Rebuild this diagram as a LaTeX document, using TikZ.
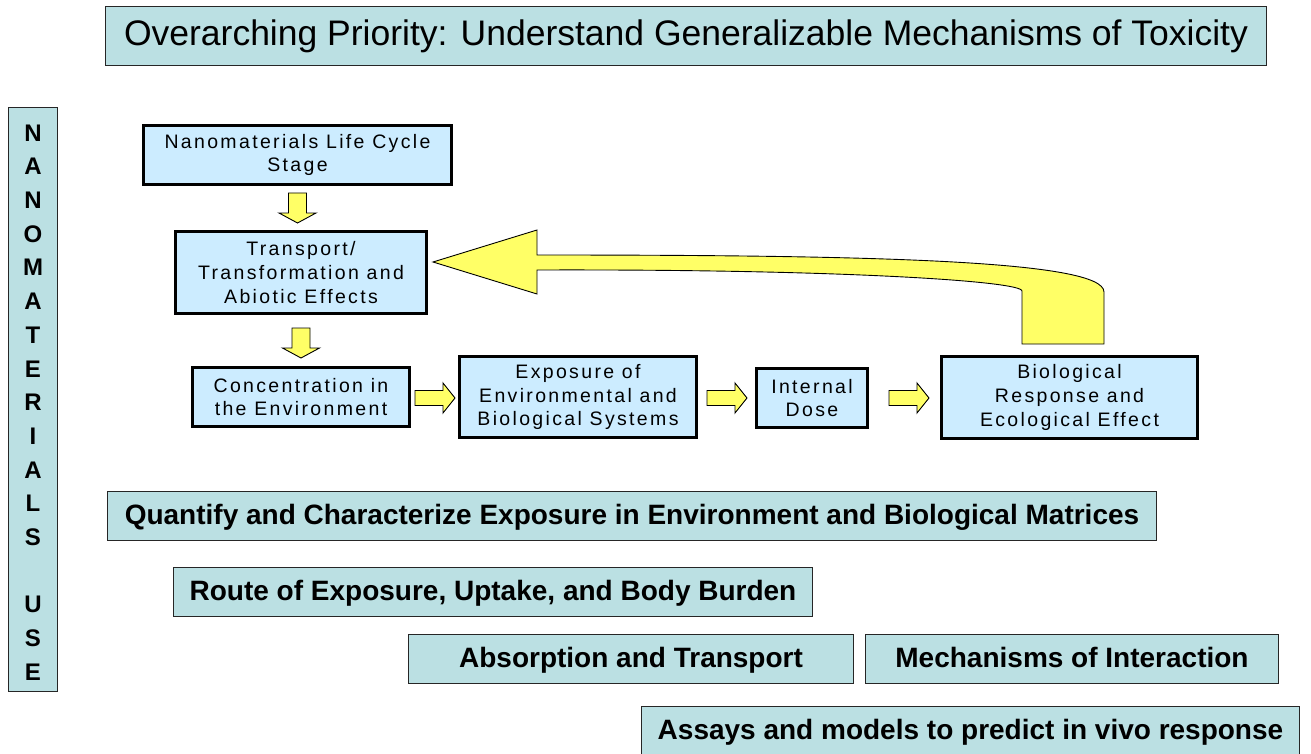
\documentclass[tikz,border=0pt]{standalone}
\usepackage{fontspec}
\setmainfont{Liberation Sans}
\newfontfamily\trackedfont[LetterSpace=12]{Liberation Sans}
\usetikzlibrary{calc}
\definecolor{tealfill}{HTML}{BBE0E3}
\definecolor{flowfill}{HTML}{CCECFF}
\definecolor{arrowfill}{HTML}{FFFF66}

% block arrows drawn from a start point
\newcommand\downblock[1]{\draw[blockarrow] #1 ++(-9,0) -- ++(18,0) -- ++(0,20) -- ++(9.5,0) -- ++(-18.5,10) -- ++(-18.5,-10) -- ++(9.5,0) -- cycle;}
\newcommand\rightblock[1]{\draw[blockarrow] #1 ++(0,-7.5) -- ++(28,0) -- ++(0,-7.5) -- ++(12,15) -- ++(-12,15) -- ++(0,-7.5) -- ++(-28,0) -- cycle;}

\begin{document}
\begin{tikzpicture}[x=1pt,y=-1pt,
  panel/.style={draw=black!85, line width=1.2pt, fill=tealfill, inner sep=0pt, minimum height=49pt,
    text height=21pt, text depth=5pt, font=\fontsize{28}{32}\selectfont\bfseries},
  flowbox/.style={draw=black, line width=3pt, fill=flowfill, inner sep=0pt, align=center,
    font=\fontsize{19.5}{23.7}\selectfont\trackedfont},
  blockarrow/.style={draw=black, line width=0.9pt, fill=arrowfill, line join=miter},
  ]
\useasboundingbox[fill=white] (0,0) rectangle (1311,754);

% headline and side banner
\node[panel, minimum width=1161pt, minimum height=59pt, text height=26pt, text depth=7pt,
  font=\fontsize{35.5}{40}\selectfont] (title) at (686,36)
  {Overarching Priority: Understand Generalizable Mechanisms of Toxicity};
\node[panel, minimum width=49pt, minimum height=584pt] (side) at (33,399.5) {};
\node[font=\fontsize{24}{33.7}\selectfont\bfseries, align=center, inner sep=0pt] (sidetext) at (33,402.5)
  {N\\A\\N\\O\\M\\A\\T\\E\\R\\I\\A\\L\\S\\\mbox{}\\U\\S\\E};

% flow of stages
\node[flowbox, minimum width=308pt, minimum height=59pt] (b1) at (297.5,155) {Nanomaterials Life Cycle\\Stage};
\node[flowbox, minimum width=251pt, minimum height=82pt] (b2) at (301,272.5) {Transport/\\Transformation and\\Abiotic Effects};
\node[flowbox, minimum width=217pt, minimum height=59pt] (b3) at (301,397) {Concentration in\\the Environment};
\node[flowbox, minimum width=237pt, minimum height=81pt] (b4) at (578,397) {Exposure of\\Environmental and\\Biological Systems};
\node[flowbox, minimum width=111pt, minimum height=59pt] (b5) at (812,398) {Internal\\Dose};
\node[flowbox, minimum width=256pt, minimum height=82pt] (b6) at (1069.5,397.5) {Biological\\Response and\\Ecological Effect};

\downblock{($(b1.south)+(0,7)$)}
\downblock{($(b2.south)+(0,13)$)}
\rightblock{($(b3.east)+(4,1)$)}
\rightblock{($(b4.east)+(9,1)$)}
\rightblock{($(b5.east)+(20,0)$)}

% feedback arrow from the response back to transport
\coordinate (fbtip) at ($(b2.east)+(5,-10.5)$);
\coordinate (fbfoot) at ($(b6.north)+(-6.5,-11)$);
\draw[blockarrow] (fbtip) -- ++(104,-32) -- ++(0,25)
  .. controls +(330,0) and +(0,-32) .. ($(fbfoot)+(41,-52)$)
  -- ($(fbfoot)+(41,0)$) -- ($(fbfoot)+(-41,0)$) -- ($(fbfoot)+(-41,-53)$)
  .. controls +(0,-10) and +(300,-1) .. ($(fbtip)+(104,8)$)
  -- ($(fbtip)+(104,32)$) -- cycle;

% research areas
\node[panel, minimum width=1049pt] (quant) at (632,516) {Quantify and Characterize Exposure in Environment and Biological Matrices};
\node[panel, minimum width=639pt] (route) at (493,592) {Route of Exposure, Uptake, and Body Burden};
\node[panel, minimum width=445pt] (absorb) at (631,659) {Absorption and Transport};
\node[panel, minimum width=413pt] (mech) at (1072,659) {Mechanisms of Interaction};
\node[panel, minimum width=658pt] (assay) at (970.5,731) {Assays and models to predict in vivo response};
\end{tikzpicture}
\end{document}
